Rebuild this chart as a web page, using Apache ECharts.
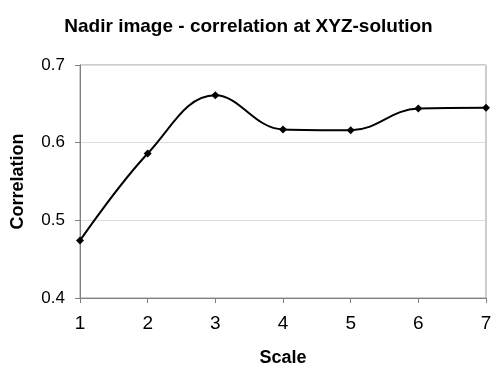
<!DOCTYPE html>
<html>
<head>
<meta charset="utf-8">
<script src="https://cdn.jsdelivr.net/npm/echarts@6/dist/echarts.min.js"></script>
<style>
  html, body { margin: 0; padding: 0; background: #fff; }
  #chart-container { width: 497px; height: 377px; }
</style>
</head>
<body>
<div id="chart-container"></div>
<script>
const scales = [1, 2, 3, 4, 5, 6, 7];
const correlation = [0.474, 0.586, 0.661, 0.617, 0.616, 0.644, 0.645];

const dom = document.getElementById('chart-container');
const myChart = window.echarts.init(dom, null, { renderer: 'canvas' });
const font = '"Liberation Sans", Arial, sans-serif';

const option = {
  animation: false,
  title: {
    text: 'Nadir image - correlation at XYZ-solution',
    left: 'center',
    top: 12,
    textStyle: { fontFamily: font, fontSize: 19, fontWeight: 'bold', color: '#000' }
  },
  grid: {
    left: 80, right: 11, top: 65, bottom: 79,
    show: true, borderColor: '#999', borderWidth: 1, backgroundColor: '#fff'
  },
  xAxis: {
    type: 'value',
    min: 1, max: 7, interval: 1,
    name: 'Scale',
    nameLocation: 'middle',
    nameGap: 51,
    nameTextStyle: { fontFamily: font, fontSize: 18, fontWeight: 'bold', color: '#000' },
    axisLine: { show: true, lineStyle: { color: '#808080' } },
    axisTick: { show: true, length: 5, lineStyle: { color: '#808080' } },
    axisLabel: { fontFamily: font, fontSize: 19, color: '#000', margin: 16 },
    splitLine: { show: false }
  },
  yAxis: {
    type: 'value',
    min: 0.4, max: 0.7, interval: 0.1,
    name: 'Correlation',
    nameLocation: 'middle',
    nameGap: 53,
    nameTextStyle: { fontFamily: font, fontSize: 18, fontWeight: 'bold', color: '#000' },
    axisLine: { show: true, lineStyle: { color: '#808080' } },
    axisTick: { show: true, length: 5, lineStyle: { color: '#808080' } },
    axisLabel: {
      fontFamily: font, fontSize: 17, color: '#000', margin: 15,
      formatter: (v) => v.toFixed(1)
    },
    splitLine: { show: true, lineStyle: { color: '#ddd' } }
  },
  series: [{
    type: 'line',
    data: scales.map((s, i) => [s, correlation[i]]),
    smooth: 0.4,
    symbol: 'diamond',
    symbolSize: 8,
    lineStyle: { color: '#000', width: 2 },
    itemStyle: { color: '#000' }
  }]
};
myChart.setOption(option);
window.addEventListener('resize', myChart.resize);
</script>
</body>
</html>
